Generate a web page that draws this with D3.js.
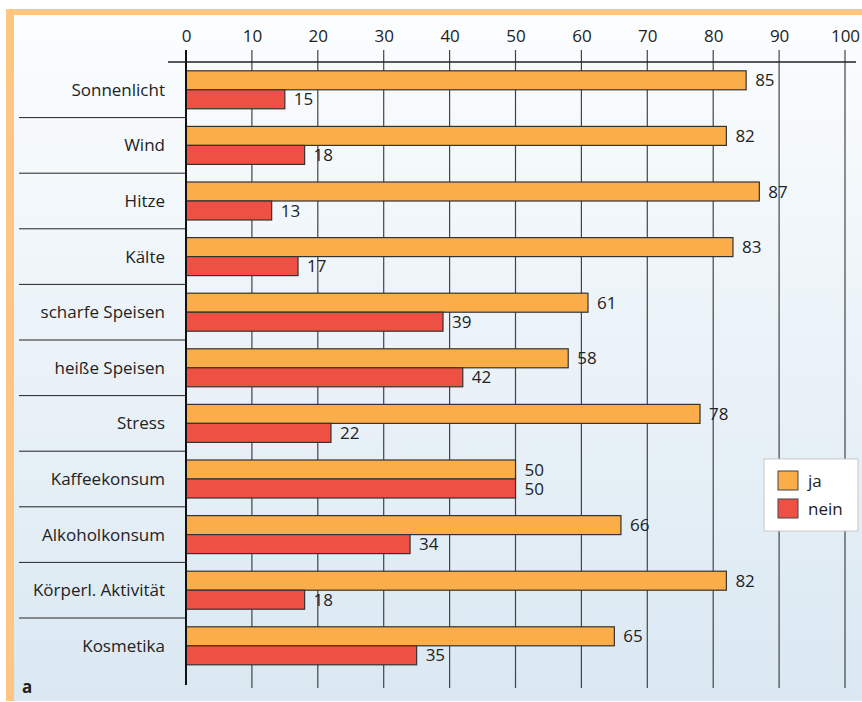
<!DOCTYPE html>
<html>
<head>
<meta charset="utf-8">
<script src="https://cdn.jsdelivr.net/npm/d3@7"></script>
<style>
  body { margin: 0; background: #fff; }
  text { font-family: "Open Sans", "Noto Sans", sans-serif; fill: #222; }
</style>
</head>
<body>
<script>
// data
var categories = ["Sonnenlicht", "Wind", "Hitze", "Kälte", "scharfe Speisen", "heiße Speisen",
                  "Stress", "Kaffeekonsum", "Alkoholkonsum", "Körperl. Aktivität", "Kosmetika"];
var jaValues   = [85, 82, 87, 83, 61, 58, 78, 50, 66, 82, 65];
var neinValues = [15, 18, 13, 17, 39, 42, 22, 50, 34, 18, 35];
var seriesNames = ["ja", "nein"];
var tickValues = [0, 10, 20, 30, 40, 50, 60, 70, 80, 90, 100];

var width = 862,
    height = 702;

var colors = { ja: "#fbad4a", nein: "#ee5144" };

var svg = d3.select("body").append("svg")
    .attr("width", width)
    .attr("height", height)
    .style("display", "block");

// background gradient
var grad = svg.append("defs").append("linearGradient")
    .attr("id", "bg")
    .attr("x1", 0).attr("y1", 0).attr("x2", 0).attr("y2", 1);
grad.append("stop").attr("offset", "0%").attr("stop-color", "#fbfdfe");
grad.append("stop").attr("offset", "100%").attr("stop-color", "#dae8f2");

// orange frame
svg.append("rect")
    .attr("x", 6).attr("y", 9)
    .attr("width", width - 6).attr("height", height - 10)
    .attr("fill", "#fec680");
svg.append("rect")
    .attr("x", 14).attr("y", 15)
    .attr("width", width - 14).attr("height", height - 16)
    .attr("fill", "url(#bg)");

var x = d3.scaleLinear()
    .domain([0, 100])
    .range([186, 845]);

var y = d3.scaleBand()
    .domain(categories)
    .range([62, 673.6]);

var sub = d3.scaleBand()
    .domain(seriesNames)
    .range([0, 38]);

var barOffset = (y.bandwidth() - 38) / 2;

// gridlines
svg.append("g").selectAll("line")
    .data(tickValues.filter(function(d) { return d > 0; }))
    .enter().append("line")
    .attr("x1", function(d) { return x(d); })
    .attr("x2", function(d) { return x(d); })
    .attr("y1", 50)
    .attr("y2", 688)
    .attr("stroke", "#444")
    .attr("stroke-width", 1.2);

// category separators
svg.append("g").selectAll("line")
    .data(categories.slice(1))
    .enter().append("line")
    .attr("x1", 19)
    .attr("x2", x(0))
    .attr("y1", function(d) { return y(d); })
    .attr("y2", function(d) { return y(d); })
    .attr("stroke", "#222")
    .attr("stroke-width", 1);

// top axis
var xAxis = d3.axisTop(x)
    .tickValues(tickValues)
    .tickSize(0)
    .tickPadding(20);

var axisG = svg.append("g")
    .attr("transform", "translate(0,62)")
    .call(xAxis);
axisG.select(".domain").remove();
axisG.selectAll("text")
    .style("font-size", "17px")
    .style("font-family", "'Open Sans', 'Noto Sans', sans-serif")
    .attr("fill", "#222");

svg.append("line")
    .attr("x1", 168).attr("x2", 856)
    .attr("y1", 62).attr("y2", 62)
    .attr("stroke", "#222")
    .attr("stroke-width", 1.5);

// rows data
var rows = categories.map(function(c, i) {
    return { name: c, ja: jaValues[i], nein: neinValues[i] };
});

var rowG = svg.append("g").selectAll("g")
    .data(rows)
    .enter().append("g")
    .attr("transform", function(d) { return "translate(0," + y(d.name) + ")"; });

rowG.append("text")
    .attr("x", 165)
    .attr("y", y.bandwidth() / 2)
    .attr("dy", "0.35em")
    .attr("text-anchor", "end")
    .style("font-size", "17px")
    .text(function(d) { return d.name; });

var bars = rowG.selectAll(".bar")
    .data(function(d) { return seriesNames.map(function(s) { return { key: s, value: d[s] }; }); })
    .enter();

bars.append("rect")
    .attr("class", "bar")
    .attr("x", x(0))
    .attr("y", function(d) { return barOffset + sub(d.key); })
    .attr("width", function(d) { return x(d.value) - x(0); })
    .attr("height", sub.bandwidth())
    .attr("fill", function(d) { return colors[d.key]; })
    .attr("stroke", "#333")
    .attr("stroke-width", 1.2);

bars.append("text")
    .attr("x", function(d) { return x(d.value) + 9; })
    .attr("y", function(d) { return barOffset + sub(d.key) + sub.bandwidth() / 2; })
    .attr("dy", "0.36em")
    .style("font-size", "17px")
    .text(function(d) { return d.value; });

// zero axis line
svg.append("line")
    .attr("x1", x(0)).attr("x2", x(0))
    .attr("y1", 50).attr("y2", 685)
    .attr("stroke", "#111")
    .attr("stroke-width", 2);

// legend
var legend = svg.append("g")
    .attr("transform", "translate(764,459)");
legend.append("rect")
    .attr("width", 94).attr("height", 72)
    .attr("fill", "#fff")
    .attr("stroke", "#c8c8c8");
var li = legend.selectAll(".li")
    .data(seriesNames)
    .enter().append("g")
    .attr("transform", function(d, i) { return "translate(14," + (12 + i * 28) + ")"; });
li.append("rect")
    .attr("width", 20).attr("height", 19)
    .attr("fill", function(d) { return colors[d]; })
    .attr("stroke", "#444");
li.append("text")
    .attr("x", 30).attr("y", 10)
    .attr("dy", "0.35em")
    .style("font-size", "17px")
    .text(function(d) { return d; });

// panel letter
svg.append("text")
    .attr("x", 22).attr("y", 693)
    .style("font-size", "17px")
    .style("font-weight", "bold")
    .text("a");
</script>
</body>
</html>
